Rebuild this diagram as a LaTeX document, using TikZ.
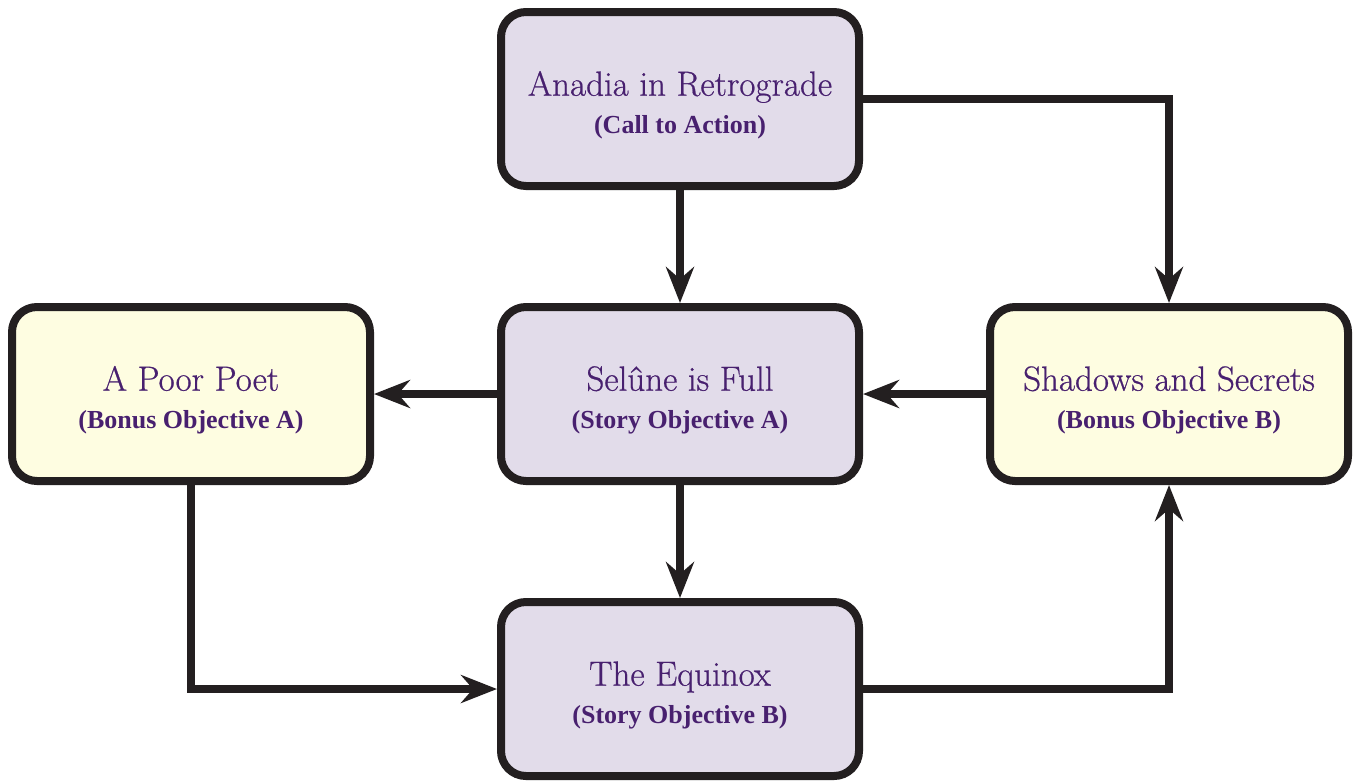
\documentclass[tikz,border=0pt]{standalone}
\usepackage{fontspec}
\newfontfamily\subfont{Liberation Serif}
\newfontfamily\titlefont{Latin Modern Roman}[FakeBold=0.6]
\usetikzlibrary{arrows.meta}
\definecolor{boxline}{HTML}{231F20}
\definecolor{purplefill}{HTML}{E2DCEA}
\definecolor{yellowfill}{HTML}{FEFDE1}
\definecolor{textpurple}{HTML}{48206F}
\newcommand{\subline}[1]{{\subfont\bfseries\fontsize{26}{30}\selectfont #1}}
\newcommand{\titleline}[1]{\rule{0pt}{37pt}#1}
\begin{document}
\begin{tikzpicture}[x=1pt,y=-1pt,
  box/.style={draw=boxline, line width=8pt, rounded corners=25pt,
    minimum width=358pt, minimum height=174pt, inner sep=0pt,
    align=center, text=textpurple, font=\titlefont\fontsize{35}{36}\selectfont},
  storybox/.style={box, fill=purplefill},
  bonusbox/.style={box, fill=yellowfill},
  conn/.style={draw=boxline, line width=7.5pt,
    -{Stealth[length=36pt,width=28pt,inset=12pt]}},
]
\useasboundingbox (0,0) rectangle (1354,780);
\node[storybox] (top) at (680,99) {\titleline{Anadia in Retrograde}\\[2pt] \subline{(Call to Action)}};
\node[storybox] (mid) at (680,394) {\titleline{Selûne is Full}\\[2pt] \subline{(Story Objective A)}};
\node[storybox] (bot) at (680,689) {\titleline{The Equinox}\\[2pt] \subline{(Story Objective B)}};
\node[bonusbox] (left) at (191,394) {\titleline{A Poor Poet}\\[2pt] \subline{(Bonus Objective A)}};
\node[bonusbox] (right) at (1169,394) {\titleline{Shadows and Secrets}\\[2pt] \subline{(Bonus Objective B)}};
\draw[conn] (top) -- (mid);
\draw[conn] (mid) -- (left);
\draw[conn] (right) -- (mid);
\draw[conn] (mid) -- (bot);
\draw[conn] (top.east) -| (right.north);
\draw[conn] (left.south) |- (bot.west);
\draw[conn] (bot.east) -| (right.south);
\end{tikzpicture}
\end{document}
